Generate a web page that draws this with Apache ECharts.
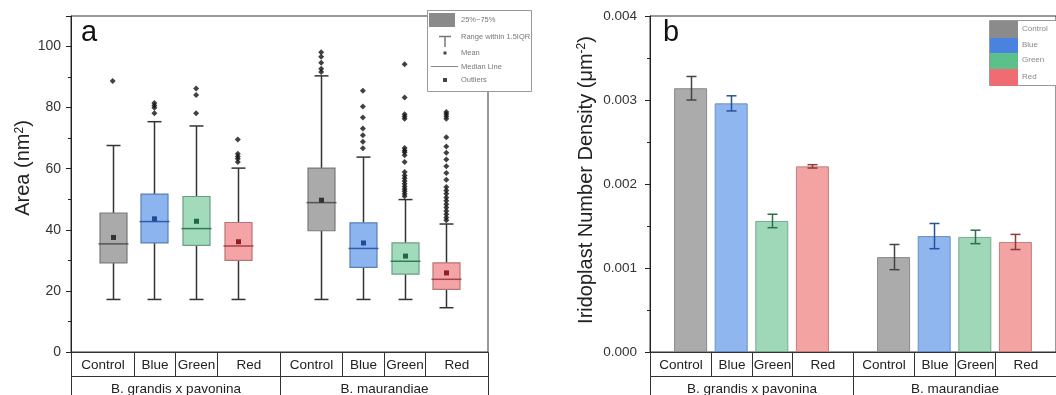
<!DOCTYPE html>
<html>
<head>
<meta charset="utf-8">
<script src="https://cdn.jsdelivr.net/npm/echarts@6/dist/echarts.min.js"></script>
<style>
html, body { margin: 0; padding: 0; background: #fff; }
#chart { width: 1056px; height: 395px; }
</style>
</head>
<body>
<div id="chart"></div>
<script>
// categories
var treatments = ['Control', 'Blue', 'Green', 'Red', 'Control', 'Blue', 'Green', 'Red'];
var species = ['B. grandis x pavonina', 'B. maurandiae'];
var positions = [1, 2, 3, 4, 6, 7, 8, 9];
var cellEdges = [0, 1.5, 2.5, 3.5, 5, 6.5, 7.5, 8.5, 10];
var speciesEdges = [0, 5, 10];

// panel a : box plot stats (area, nm^2)
var whiskerLow = [17.2, 17.2, 17.2, 17.2, 17.2, 17.2, 17.2, 14.5];
var q1 = [29.2, 35.7, 34.9, 30.0, 39.7, 27.7, 25.5, 20.5];
var median = [35.4, 42.7, 40.4, 34.7, 48.9, 33.9, 29.7, 23.8];
var q3 = [45.5, 51.7, 50.9, 42.4, 60.2, 42.3, 35.7, 29.2];
var whiskerHigh = [67.6, 75.4, 74.0, 60.2, 90.4, 63.8, 49.9, 41.9];
var mean = [37.5, 43.6, 42.8, 36.1, 49.7, 35.7, 31.4, 25.9];
var outliers = [
  [88.7],
  [81.5, 80.7, 80.0, 78.2],
  [86.3, 84.1, 78.2],
  [69.6, 64.9, 64.0, 63.3, 62.2],
  [98.1, 96.7, 94.7, 92.7, 91.7],
  [85.5, 80.4, 76.8, 73.2, 71.0, 68.8, 66.7],
  [94.2, 83.3, 77.8, 77.1, 76.4, 66.8, 66.0, 65.4, 64.4, 62.2, 58.9, 57.8, 56.9, 56.0, 55.1, 54.2, 53.4, 52.6, 51.8, 51.0],
  [78.6, 77.9, 77.2, 76.4, 70.3, 67.3, 65.2, 63.0, 60.8, 58.6, 56.4, 54.0, 52.9, 51.8, 50.6, 49.5, 48.4, 47.3, 46.2, 45.1, 44.0, 43.1]
];

// panel b : iridoplast number density
var density = [0.00314, 0.00296, 0.00156, 0.00221, 0.00113, 0.00138, 0.00137, 0.00131];
var densityErr = [0.00014, 0.00009, 0.00008, 0.00002, 0.00015, 0.00015, 0.00008, 0.00009];

var FONT = 'Liberation Sans, Arial, sans-serif';
var boxFill = ['#aaaaaa', '#8cb4ee', '#a2dbbc', '#f4a3a6'];
var boxEdge = ['#7a7a7a', '#5b7fb8', '#6c9e82', '#b87477'];
var medColor = ['#555555', '#2f5ea8', '#2f7d52', '#a8434a'];
var meanColor = ['#333333', '#1f4c99', '#1c6b40', '#8e1f27'];
var barFill = ['#ababab', '#8fb6ef', '#9ed8b9', '#f4a3a3'];
var barEdge = ['#888888', '#6c8dc0', '#76a88c', '#c27f80'];
var errColor = ['#444444', '#27509a', '#2a7048', '#8f3a3a'];

var chart = echarts.init(document.getElementById('chart'));

function renderBox(params, api) {
  var x = api.value(0), c = api.value(7);
  var lo = api.coord([x, api.value(1)]);
  var b1 = api.coord([x, api.value(2)]);
  var md = api.coord([x, api.value(3)]);
  var b3 = api.coord([x, api.value(4)]);
  var hi = api.coord([x, api.value(5)]);
  var mn = api.coord([x, api.value(6)]);
  var cx = Math.round(lo[0]) + 0.5;
  var wl = {stroke: '#333', lineWidth: 1.5};
  return {type: 'group', children: [
    {type: 'line', shape: {x1: cx, y1: lo[1], x2: cx, y2: b1[1]}, style: wl},
    {type: 'line', shape: {x1: cx, y1: b3[1], x2: cx, y2: hi[1]}, style: wl},
    {type: 'line', shape: {x1: cx - 7, y1: lo[1], x2: cx + 7, y2: lo[1]}, style: wl},
    {type: 'line', shape: {x1: cx - 7, y1: hi[1], x2: cx + 7, y2: hi[1]}, style: wl},
    {type: 'rect', shape: {x: cx - 13.5, y: b3[1], width: 27, height: b1[1] - b3[1]},
      style: {fill: boxFill[c], stroke: boxEdge[c], lineWidth: 1.2}},
    {type: 'line', shape: {x1: cx - 15, y1: md[1], x2: cx + 15, y2: md[1]},
      style: {stroke: medColor[c], lineWidth: 1.5}},
    {type: 'rect', shape: {x: cx - 2.5, y: mn[1] - 2.5, width: 5, height: 5},
      style: {fill: meanColor[c]}}
  ]};
}

function renderErr(params, api) {
  var x = api.value(0), m = api.value(1), e = api.value(2), c = api.value(3);
  var top = api.coord([x, m + e]);
  var bot = api.coord([x, m - e]);
  var cx = Math.round(top[0]) + 0.5;
  var st = {stroke: errColor[c], lineWidth: 1.5};
  return {type: 'group', children: [
    {type: 'line', shape: {x1: cx, y1: top[1], x2: cx, y2: bot[1]}, style: st},
    {type: 'line', shape: {x1: cx - 5, y1: top[1], x2: cx + 5, y2: top[1]}, style: st},
    {type: 'line', shape: {x1: cx - 5, y1: bot[1], x2: cx + 5, y2: bot[1]}, style: st}
  ]};
}

function tableCells() {
  var cells = [];
  for (var i = 0; i < treatments.length; i++) {
    cells.push([cellEdges[i], 0, cellEdges[i + 1], 0, i]);
  }
  for (var j = 0; j < species.length; j++) {
    cells.push([speciesEdges[j], 0, speciesEdges[j + 1], 1, j]);
  }
  return cells;
}

function renderCell(params, api) {
  var p0 = api.coord([api.value(0), 0]);
  var p1 = api.coord([api.value(2), 0]);
  var row = api.value(3), idx = api.value(4);
  var x0 = Math.round(p0[0]) + 0.5, x1 = Math.round(p1[0]) + 0.5;
  var y0 = Math.round(p0[1]) + 0.5 + row * 24;
  var h = row === 0 ? 24 : 30;
  var label = row === 0 ? treatments[idx] : species[idx];
  return {type: 'group', children: [
    {type: 'rect', shape: {x: x0, y: y0, width: x1 - x0, height: h},
      style: {fill: 'none', stroke: '#333', lineWidth: 1}},
    {type: 'text', style: {text: label, x: (x0 + x1) / 2, y: y0 + 12.5,
      align: 'center', verticalAlign: 'middle', fontSize: 13.5, fontFamily: FONT, fill: '#222'}}
  ]};
}

var boxData = positions.map(function (x, i) {
  return [x, whiskerLow[i], q1[i], median[i], q3[i], whiskerHigh[i], mean[i], i % 4];
});
var outlierData = [];
outliers.forEach(function (list, i) {
  list.forEach(function (v) { outlierData.push([positions[i], v]); });
});
var barData = positions.map(function (x, i) {
  return {value: [x, density[i]],
    itemStyle: {color: barFill[i % 4], borderColor: barEdge[i % 4], borderWidth: 1}};
});
var errData = positions.map(function (x, i) {
  return [x, density[i], densityErr[i], i % 4];
});

function yAxisBase(idx) {
  return {
    gridIndex: idx,
    type: 'value',
    nameLocation: 'middle',
    axisLine: {show: true, lineStyle: {color: '#222'}},
    axisTick: {show: true, length: 5, lineStyle: {color: '#222'}},
    minorTick: {show: true, splitNumber: 2, length: 3, lineStyle: {color: '#222'}},
    splitLine: {show: false},
    axisLabel: {color: '#333', fontFamily: FONT, fontSize: 14, showMaxLabel: true}
  };
}

var yA = yAxisBase(0);
yA.min = 0; yA.max = 110; yA.interval = 20;
yA.axisLabel.showMaxLabel = false;
yA.axisLabel.margin = 10;
yA.name = '{n|Area (nm}{s|2}{n|)}';
yA.nameGap = 34;
yA.nameTextStyle = {color: '#222', padding: [0, 0, 0, 32], rich: {
  n: {fontSize: 20, fontFamily: FONT, color: '#222'},
  s: {fontSize: 12, fontFamily: FONT, color: '#222', verticalAlign: 'top'}
}};

var yB = yAxisBase(1);
yB.min = 0; yB.max = 0.004; yB.interval = 0.001;
yB.axisLabel.margin = 13;
yB.axisLabel.fontSize = 13.5;
yB.axisLabel.formatter = function (v) { return v.toFixed(3); };
yB.name = '{n|Iridoplast Number Density (\u03bcm}{s|-2}{n|)}';
yB.nameGap = 54;
yB.nameTextStyle = {color: '#222', padding: [0, 0, 0, 8], rich: {
  n: {fontSize: 20, fontFamily: FONT, color: '#222'},
  s: {fontSize: 12, fontFamily: FONT, color: '#222', verticalAlign: 'top'}
}};

function xAxisBase(idx) {
  return {
    gridIndex: idx, type: 'value', min: 0, max: 10,
    axisLine: {show: true, lineStyle: {color: '#222'}},
    axisTick: {show: false}, axisLabel: {show: false}, splitLine: {show: false}
  };
}

function legendA() {
  function t(s, y) {
    return {type: 'text', x: 461, y: y, z: 101,
      style: {text: s, verticalAlign: 'middle', fontSize: 7.5, fontFamily: FONT, fill: '#777'}};
  }
  return [
    {type: 'rect', z: 100, shape: {x: 427.5, y: 10.5, width: 104, height: 81}, style: {fill: '#fff', stroke: '#999', lineWidth: 1}},
    {type: 'rect', z: 101, shape: {x: 429, y: 13, width: 26, height: 14}, style: {fill: '#8a8a8a'}},
    {type: 'line', z: 101, shape: {x1: 439, y1: 36.5, x2: 451, y2: 36.5}, style: {stroke: '#777', lineWidth: 1.5}},
    {type: 'line', z: 101, shape: {x1: 445, y1: 36.5, x2: 445, y2: 47}, style: {stroke: '#777', lineWidth: 1.5}},
    {type: 'rect', z: 101, shape: {x: 443.5, y: 51.5, width: 3, height: 3}, style: {fill: '#444'}},
    {type: 'line', z: 101, shape: {x1: 431, y1: 66.5, x2: 458, y2: 66.5}, style: {stroke: '#888', lineWidth: 1}},
    {type: 'rect', z: 101, shape: {x: 443, y: 78, width: 4, height: 4}, style: {fill: '#444'}},
    t('25%~75%', 20), t('Range within 1.5IQR', 37), t('Mean', 53), t('Median Line', 66.5), t('Outliers', 80)
  ];
}

function legendB() {
  var sw = ['#8b8b8b', '#4a82e0', '#5cc08a', '#ee6d72'];
  var names = ['Control', 'Blue', 'Green', 'Red'];
  var tops = [20, 37, 52, 68, 85];
  var els = [
    {type: 'rect', z: 100, shape: {x: 989.5, y: 20.5, width: 80, height: 65}, style: {fill: '#fff', stroke: '#999', lineWidth: 1}}
  ];
  for (var i = 0; i < 4; i++) {
    els.push({type: 'rect', z: 101, shape: {x: 990, y: tops[i] + 1, width: 28, height: tops[i + 1] - tops[i]}, style: {fill: sw[i]}});
    els.push({type: 'text', z: 101, x: 1022, y: (tops[i] + tops[i + 1]) / 2,
      style: {text: names[i], verticalAlign: 'middle', fontSize: 8, fontFamily: FONT, fill: '#888'}});
  }
  return els;
}

var option = {
  animation: false,
  backgroundColor: '#fff',
  grid: [
    {left: 71, top: 16, width: 417, height: 336, show: true, borderColor: '#333', borderWidth: 1},
    {left: 650, top: 16, width: 417, height: 336, show: true, borderColor: '#333', borderWidth: 1}
  ],
  xAxis: [xAxisBase(0), xAxisBase(1)],
  yAxis: [yA, yB],
  graphic: [
    {type: 'text', left: 81, top: 18, style: {text: 'a', fontSize: 29, fontFamily: FONT, fill: '#111'}},
    {type: 'text', left: 663, top: 18, style: {text: 'b', fontSize: 29, fontFamily: FONT, fill: '#111'}}
  ].concat(legendA(), legendB()),
  series: [
    {type: 'custom', xAxisIndex: 0, yAxisIndex: 0, renderItem: renderBox, data: boxData, z: 3},
    {type: 'scatter', xAxisIndex: 0, yAxisIndex: 0, data: outlierData, symbol: 'diamond', symbolSize: 6,
      itemStyle: {color: '#111'}, z: 4},
    {type: 'custom', xAxisIndex: 0, yAxisIndex: 0, renderItem: renderCell, data: tableCells(), clip: false, z: 5},
    {type: 'bar', xAxisIndex: 1, yAxisIndex: 1, data: barData, barWidth: 33, z: 3},
    {type: 'custom', xAxisIndex: 1, yAxisIndex: 1, renderItem: renderErr, data: errData, z: 4},
    {type: 'custom', xAxisIndex: 1, yAxisIndex: 1, renderItem: renderCell, data: tableCells(), clip: false, z: 5}
  ]
};
chart.setOption(option);
</script>
</body>
</html>
